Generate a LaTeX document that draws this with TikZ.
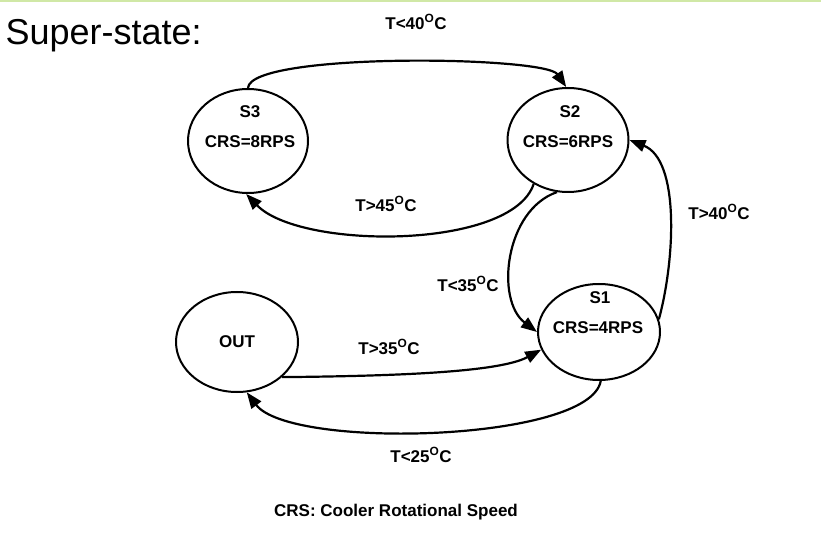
\documentclass[tikz,border=0pt]{standalone}
\usepackage{fontspec}
\setmainfont{Liberation Sans}
\definecolor{bargreen}{RGB}{208,232,166}
\usetikzlibrary{arrows.meta,shapes.geometric}

\begin{document}
\begin{tikzpicture}[x=1pt,y=-1pt,
    state/.style={ellipse, draw, line width=2pt, inner sep=0pt},
    lbl/.style={font=\fontsize{17}{20}\selectfont\bfseries},
    trans/.style={line width=2.2pt, -{Triangle[length=16pt,width=12pt]}}]
  \useasboundingbox (0,0) rectangle (821,534);
  % top bar and title
  \draw[bargreen, line width=2pt] (0,1) -- (821,1);
  \node[anchor=west, font=\fontsize{36}{40}\selectfont] (title) at (2,36) {Super-state:};
  % States
  \node[state, minimum width=120pt, minimum height=104pt] (s3) at (248,141) {};
  \node[state, minimum width=121pt, minimum height=104pt] (s2) at (568,140) {};
  \node[state, minimum width=122pt, minimum height=100pt] (out) at (237,342) {};
  \node[state, minimum width=122pt, minimum height=96pt] (s1) at (599,332) {};
  \node[lbl] (s3name) at (250,112) {S3};
  \node[lbl] (s3crs) at (250,142) {CRS=8RPS};
  \node[lbl] (s2name) at (570,112) {S2};
  \node[lbl] (s2crs) at (568,142) {CRS=6RPS};
  \node[lbl] (s1name) at (600,298) {S1};
  \node[lbl] (s1crs) at (598,328) {CRS=4RPS};
  \node[lbl] (outname) at (237,342) {OUT};
  % Transitions
  \draw[trans] (s3.90) .. controls (250,52) and (545,56) .. (s2.92);
  \draw[trans] (s2.232) .. controls (512,250) and (300,250) .. (s3.268);
  \draw[trans] (s2.258) .. controls (505,210) and (495,300) .. (s1.180);
  \draw[trans] (s1.12) .. controls (675,260) and (680,160) .. (s2.0);
  \draw[trans] (out.-38) .. controls (400,376) and (500,372) .. (s1.197);
  \draw[trans] (s1.-88) .. controls (590,442) and (290,450) .. (out.-79);
  % Transition labels
  \node[lbl] (t40a) at (416,22) {T<40\textsuperscript{O}C};
  \node[lbl] (t45) at (386,204) {T>45\textsuperscript{O}C};
  \node[lbl] (t35a) at (468,284) {T<35\textsuperscript{O}C};
  \node[lbl] (t40b) at (719,212) {T>40\textsuperscript{O}C};
  \node[lbl] (t35b) at (389,347) {T>35\textsuperscript{O}C};
  \node[lbl] (t25) at (421,455) {T<25\textsuperscript{O}C};
  % Legend
  \node[lbl] (legend) at (396,512) {CRS: Cooler Rotational Speed};
\end{tikzpicture}
\end{document}
